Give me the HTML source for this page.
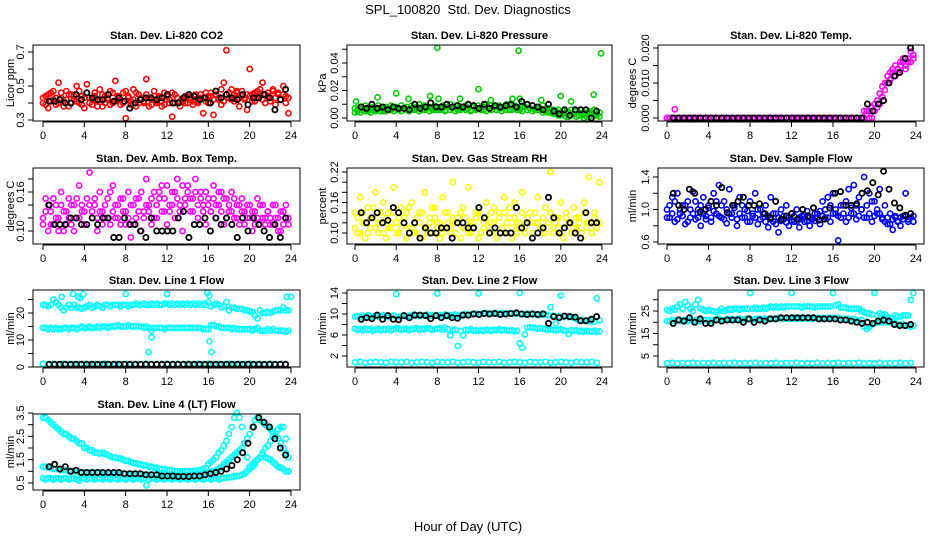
<!DOCTYPE html>
<html><head><meta charset="utf-8"><style>
html,body{margin:0;padding:0;background:#fff;}
svg{display:block;font-family:"Liberation Sans",Arial,sans-serif;}
</style></head><body>
<svg id="chart" width="936" height="540" viewBox="0 0 936 540">
<text x="468" y="14" text-anchor="middle" font-size="13" style="white-space:pre">SPL_100820  Std. Dev. Diagnostics</text>
<text x="468" y="531" text-anchor="middle" font-size="13">Hour of Day (UTC)</text>
</svg>
<script>
// ---------- data ----------
const xTicks = [0,4,8,12,16,20,24];
const blackStart = 0.6, blackStep = 0.52;

const co2A = [0.40,0.44,0.37,0.46,0.42,0.39,0.52,0.43,0.41,0.47,0.38,0.45,0.42,0.50,0.40,0.44,0.37,0.51,0.43,0.39,0.46,0.41,0.48,0.38,0.44,0.42,0.47,0.40,0.53,0.43,0.39,0.46,0.31,0.44,0.41,0.48,0.38,0.45,0.42,0.40,0.54,0.43,0.39,0.47,0.41,0.44,0.38,0.46,0.42,0.40,0.32,0.45,0.43,0.38,0.41,0.44,0.40,0.42,0.39,0.45,0.41,0.43,0.34,0.46,0.40,0.44,0.33,0.47,0.42,0.39,0.52,0.45,0.43,0.48,0.41,0.46,0.38,0.44,0.43,0.36,0.60,0.45,0.41,0.47,0.44,0.52,0.40,0.46,0.43,0.48,0.39,0.45,0.42,0.50,0.40,0.34];
const co2B = [0.43,0.39,0.45,0.41,0.47,0.43,0.40,0.46,0.38,0.42,0.45,0.40,0.44,0.41,0.47,0.39,0.43,0.46,0.40,0.42,0.44,0.38,0.42,0.45,0.40,0.43,0.39,0.46,0.41,0.44,0.42,0.40,0.47,0.43,0.39,0.42,0.46,0.40,0.43,0.41,0.45,0.38,0.42,0.44,0.40,0.43,0.41,0.39,0.44,0.42,0.46,0.40,0.43,0.41,0.42,0.40,0.44,0.43,0.41,0.42,0.40,0.45,0.43,0.41,0.44,0.46,0.42,0.45,0.43,0.48,0.41,0.71,0.46,0.42,0.45,0.47,0.43,0.47,0.42,0.45,0.44,0.41,0.46,0.43,0.48,0.42,0.45,0.44,0.41,0.47,0.43,0.46,0.42,0.45,0.44,0.43];
const co2Black = [0.41,0.41,0.42,0.40,0.40,0.45,0.42,0.46,0.43,0.42,0.42,0.45,0.41,0.43,0.41,0.37,0.40,0.42,0.43,0.43,0.42,0.43,0.45,0.40,0.40,0.43,0.45,0.44,0.42,0.43,0.40,0.47,0.43,0.45,0.43,0.42,0.45,0.39,0.43,0.43,0.45,0.43,0.36,0.42,0.48];

const presA = [0.007,0.005,0.008,0.006,0.009,0.005,0.007,0.008,0.006,0.009,0.007,0.005,0.008,0.006,0.009,0.007,0.008,0.006,0.009,0.007,0.008,0.006,0.009,0.007,0.008,0.010,0.006,0.009,0.007,0.008,0.006,0.009,0.008,0.007,0.009,0.006,0.008,0.010,0.007,0.009,0.006,0.008,0.007,0.009,0.010,0.006,0.008,0.007,0.009,0.008,0.006,0.010,0.007,0.009,0.008,0.006,0.009,0.007,0.008,0.010,0.006,0.009,0.007,0.008,0.006,0.009,0.008,0.010,0.007,0.009,0.006,0.008,0.007,0.009,0.005,0.007,0.004,0.006,0.003,0.006,0.002,0.005,0.004,0.001,0.006,0.003,0.005,0.002,0.006,0.004,0.001,0.005,0.003,0.006,0.002,0.004];
const presB = [0.004,0.006,0.004,0.007,0.005,0.006,0.004,0.006,0.005,0.007,0.005,0.006,0.005,0.007,0.006,0.005,0.007,0.006,0.005,0.007,0.006,0.005,0.007,0.006,0.007,0.005,0.008,0.006,0.007,0.005,0.007,0.006,0.006,0.006,0.007,0.005,0.008,0.006,0.007,0.005,0.007,0.006,0.008,0.006,0.007,0.005,0.008,0.006,0.007,0.006,0.008,0.005,0.007,0.006,0.008,0.006,0.007,0.005,0.008,0.006,0.007,0.006,0.009,0.006,0.007,0.005,0.008,0.006,0.007,0.005,0.007,0.006,0.006,0.004,0.006,0.004,0.005,0.003,0.005,0.002,0.004,0.003,0.001,0.004,0.002,0.003,0.001,0.004,0.002,0.000,0.003,0.001,0.004,0.002,0.003,0.001];
const presOutHours = [0.1,2.2,4.0,5.2,7.3,8.0,8.1,10.2,12.0,13.2,15.3,15.9,16.0,18.1,20.0,21.0,23.2,23.9];
const presOutVals = [0.012,0.015,0.018,0.014,0.016,0.051,0.014,0.014,0.021,0.013,0.014,0.049,0.014,0.013,0.016,0.012,0.017,0.047];
const presBlack = [0.008,0.007,0.010,0.007,0.008,0.006,0.008,0.007,0.007,0.006,0.010,0.007,0.008,0.011,0.008,0.008,0.010,0.008,0.009,0.008,0.010,0.009,0.007,0.010,0.007,0.009,0.008,0.009,0.010,0.008,0.012,0.010,0.009,0.008,0.006,0.010,0.005,0.003,0.006,0.002,0.006,0.006,0.006,0.000,0.005];

const tempA = [0,0,0,0.0025,0,0,0,0,0,0,0,0,0,0,0,0,0,0,0,0,0,0,0,0,0,0,0,0,0,0,0,0,0,0,0,0,0,0,0,0,0,0,0,0,0,0,0,0,0,0,0,0,0,0,0,0,0,0,0,0,0,0,0,0,0,0,0,0,0,0,0,0,0,0,0,0,0.002,0.001,0.002,0.000,0.002,0.003,0.004,0.006,0.008,0.010,0.011,0.013,0.012,0.014,0.015,0.016,0.014,0.017,0.016,0.018];
const tempB = [0,0,0,0,0,0,0,0,0,0,0,0,0,0,0,0,0,0,0,0,0,0,0,0,0,0,0,0,0,0,0,0,0,0,0,0,0,0,0,0,0,0,0,0,0,0,0,0,0,0,0,0,0,0,0,0,0,0,0,0,0,0,0,0,0,0,0,0,0,0,0,0,0,0,0,0,0.000,0.002,0.000,0.003,0.004,0.005,0.007,0.009,0.010,0.012,0.013,0.014,0.015,0.013,0.016,0.017,0.015,0.016,0.019,0.017];
const tempBlack = [0,0,0,0,0,0,0,0,0,0,0,0,0,0,0,0,0,0,0,0,0,0,0,0,0,0,0,0,0,0,0,0,0,0,0,0,0.004,0.002,0.004,0.005,0.010,0.012,0.013,0.017,0.020];

const ambA = [0.12,0.15,0.10,0.13,0.11,0.14,0.12,0.16,0.10,0.13,0.15,0.11,0.14,0.12,0.17,0.13,0.11,0.15,0.19,0.12,0.14,0.10,0.16,0.13,0.12,0.15,0.11,0.17,0.14,0.12,0.15,0.13,0.11,0.16,0.09,0.14,0.12,0.15,0.10,0.13,0.18,0.14,0.11,0.16,0.12,0.15,0.17,0.13,0.11,0.14,0.16,0.12,0.18,0.14,0.10,0.15,0.17,0.13,0.15,0.18,0.12,0.16,0.14,0.11,0.15,0.13,0.17,0.12,0.14,0.16,0.11,0.15,0.13,0.16,0.12,0.14,0.11,0.15,0.13,0.12,0.14,0.10,0.13,0.15,0.11,0.14,0.12,0.13,0.11,0.14,0.12,0.10,0.13,0.11,0.14,0.12];
const ambB = [0.11,0.13,0.14,0.11,0.15,0.12,0.10,0.14,0.13,0.11,0.12,0.14,0.10,0.15,0.12,0.14,0.13,0.11,0.14,0.13,0.15,0.12,0.13,0.11,0.14,0.12,0.16,0.13,0.12,0.14,0.11,0.15,0.13,0.12,0.14,0.11,0.15,0.13,0.16,0.12,0.14,0.13,0.15,0.12,0.14,0.16,0.13,0.15,0.17,0.13,0.14,0.16,0.15,0.13,0.17,0.14,0.16,0.15,0.13,0.16,0.14,0.15,0.13,0.16,0.14,0.13,0.15,0.14,0.16,0.13,0.15,0.12,0.14,0.13,0.15,0.12,0.14,0.13,0.11,0.14,0.12,0.13,0.11,0.12,0.14,0.12,0.11,0.13,0.12,0.11,0.14,0.12,0.10,0.13,0.12,0.11];
const ambBlack = [0.14,0.11,0.11,0.11,0.12,0.12,0.11,0.11,0.12,0.11,0.12,0.12,0.09,0.09,0.12,0.11,0.11,0.10,0.09,0.12,0.10,0.10,0.10,0.10,0.12,0.13,0.09,0.11,0.11,0.12,0.10,0.12,0.11,0.12,0.11,0.09,0.12,0.10,0.12,0.11,0.10,0.09,0.11,0.09,0.12];

const rhA = [0.14,0.10,0.17,0.12,0.09,0.15,0.11,0.13,0.18,0.10,0.12,0.16,0.09,0.14,0.11,0.19,0.12,0.10,0.15,0.13,0.09,0.11,0.16,0.12,0.10,0.14,0.09,0.18,0.11,0.13,0.10,0.15,0.12,0.09,0.17,0.11,0.14,0.10,0.20,0.12,0.13,0.09,0.15,0.11,0.19,0.10,0.12,0.14,0.09,0.13,0.11,0.16,0.10,0.12,0.15,0.09,0.14,0.11,0.17,0.10,0.13,0.09,0.16,0.12,0.11,0.18,0.10,0.13,0.14,0.09,0.12,0.17,0.11,0.10,0.15,0.12,0.22,0.10,0.13,0.11,0.16,0.09,0.14,0.12,0.10,0.15,0.11,0.13,0.09,0.16,0.12,0.21,0.10,0.14,0.11,0.20];
const rhB = [0.11,0.13,0.10,0.14,0.12,0.10,0.13,0.15,0.11,0.12,0.14,0.10,0.13,0.11,0.12,0.14,0.10,0.13,0.11,0.12,0.14,0.15,0.11,0.10,0.13,0.12,0.14,0.11,0.10,0.12,0.15,0.13,0.11,0.12,0.10,0.14,0.12,0.11,0.13,0.10,0.12,0.14,0.11,0.13,0.10,0.12,0.11,0.13,0.14,0.10,0.12,0.13,0.11,0.14,0.12,0.10,0.13,0.11,0.14,0.12,0.15,0.11,0.13,0.10,0.12,0.14,0.11,0.13,0.12,0.10,0.14,0.12,0.11,0.13,0.10,0.12,0.14,0.11,0.12,0.13,0.10,0.11,0.13,0.12,0.10,0.11,0.13,0.12,0.10,0.14,0.11,0.12,0.10,0.13,0.11,0.12];
const rhBlack = [0.14,0.12,0.13,0.14,0.12,0.125,0.15,0.14,0.12,0.10,0.12,0.09,0.11,0.10,0.10,0.11,0.11,0.09,0.12,0.12,0.11,0.11,0.15,0.13,0.10,0.11,0.10,0.10,0.10,0.15,0.11,0.12,0.09,0.10,0.11,0.17,0.13,0.10,0.11,0.12,0.10,0.09,0.14,0.12,0.12];

const sfA = [1.0,0.9,1.15,0.85,1.2,0.95,1.05,0.82,1.1,0.9,1.22,0.88,1.0,0.8,1.15,0.92,1.05,0.85,1.2,0.95,1.3,0.9,1.1,0.83,1.25,0.95,1.05,0.8,1.15,0.9,1.0,0.85,1.1,0.92,1.2,0.82,1.0,0.9,1.05,0.78,1.15,0.85,0.95,0.72,1.0,0.88,1.05,0.8,0.95,0.85,1.0,0.78,0.92,0.85,0.98,0.8,0.9,0.86,0.95,0.82,1.1,0.9,1.15,0.85,1.2,0.95,0.62,0.9,1.05,0.85,1.25,0.95,1.3,0.88,1.15,1.0,1.4,0.9,1.2,0.85,1.1,0.95,1.25,0.9,1.05,0.82,0.95,0.75,0.9,0.85,0.8,0.92,1.2,0.88,0.95,0.85];
const sfB = [0.9,1.05,0.95,1.1,0.88,1.0,0.92,1.05,0.85,1.0,0.95,1.1,0.9,1.05,0.95,0.88,1.02,0.9,0.98,1.1,0.92,1.05,0.88,1.0,0.95,0.9,1.02,0.88,0.95,1.05,0.9,0.98,0.85,0.95,0.9,1.0,0.88,0.95,0.85,0.92,0.88,0.95,0.82,0.9,0.86,0.92,0.84,0.9,0.87,0.92,0.85,0.9,0.88,0.93,0.86,0.9,0.88,0.95,0.9,0.98,0.92,1.0,0.9,1.05,0.95,1.0,0.92,1.05,0.95,1.1,0.9,1.02,0.95,1.05,0.92,1.0,0.9,1.05,0.95,1.1,0.92,1.0,0.95,0.88,0.85,0.9,0.82,0.88,0.92,0.86,0.9,0.88,0.92,0.85,0.9,0.92];
const sfBlack = [1.2,1.05,1.0,1.25,1.2,0.97,1.0,1.1,1.05,1.27,0.96,1.05,1.1,1.15,1.05,1.05,1.07,0.95,0.9,1.1,0.88,0.92,0.95,0.88,1.0,0.92,1.02,0.87,0.88,1.02,1.2,1.22,1.05,1.05,1.07,1.2,1.23,1.33,1.18,1.47,1.25,1.08,1.02,0.93,0.95];

const l1Up = [23,23,22.5,23,25,24,23,22,21,22,23,22,23,22,22,21.5,22,22.5,23,22,22.5,23,22.5,22,23,23,22.5,23,23,23,22.5,23,23,22.5,23,23,23.5,23,23,23.5,23,23,23.5,23,23.5,23,23,23.5,23.5,23,23.5,23,23.5,23,23.5,23,23.5,23,23.5,23,23.5,23,23.5,23,24,22.5,23,23.5,23,22,22.5,24,21,22,22,21.5,21.5,21.5,21,21,20.5,20.5,19,18,21,20,20,20.5,20,20.5,21,21,21,22,21,21];
const l1Mid = [14.5,14.5,14,14.5,14,14.5,14,14,14.5,14.5,14,14.5,14.5,14,14.5,15,14.5,14.5,15,14.5,14.5,15,14.5,15,15,14.5,15,15,15,15.5,15,15,15,15.5,15,15,15,15,15,14.5,15,14.5,13.5,14.5,14.5,14.5,14.5,14,14.5,14.5,14.5,14.5,14.5,14.5,14.5,14.5,14.5,14.5,14.5,14.5,14.5,14.5,14,14,14,15.5,15.5,15,15,14.5,14.5,14.5,14.5,14,14.5,14,14,14,14,14,14,13.5,14,14.5,13.5,13.5,13.5,14,13.5,14,13.5,13.5,13.5,13.5,13,13.5];
const l1Low = [1.2,1,1.1,1,1.2,1,1.1,1,1.2,1,1.1,1,1.2,1,1.1,1,1.2,1,1.1,1,1.2,1,1.1,1,1.2,1,1.1,1,1.2,1,1.1,1,1.2,1,1.1,1,1.2,1,1.1,1,1.2,1,1.1,1,1.2,1,1.1,1];
const l1OutHours = [1.8,2.9,3.4,3.6,3.9,8.0,12.0,15.9,16.1,23.6,24.0,10.2,10.5,16.1,16.3];
const l1OutVals = [26,27,26,25.5,27,27,27,27.5,26.5,26,26,5.5,11,9.5,5.5];
const l1Black = [1,1,1,1,1,1,1,1,1,1,1,1,1,1,1,1,1,1,1,1,1,1,1,1,1,1,1,1,1,1,1,1,1,1,1,1,1,1,1,1,1,1,1,1,1];

const l2Up = [9.5,9.6,9.4,9.7,9.5,9.8,9.6,9.4,9.7,9.5,9.6,9.8,9.5,9.4,9.6,9.7,13.8,9.5,9.6,9.8,9.5,9.7,9.6,9.9,9.7,9.6,9.8,9.7,9.9,9.6,9.8,9.7,13.9,9.8,9.7,9.9,9.6,9.8,9.7,9.9,9.6,9.8,9.9,10.0,9.8,9.9,10.0,10.1,13.9,10.0,10.1,10.2,10.0,10.1,10.2,10.0,10.1,10.2,10.0,10.1,10.2,10.1,10.0,10.1,14.0,10.0,9.9,10.1,10.0,9.9,10.0,9.8,9.9,10.1,9.9,9.8,11.3,9.7,8.2,9.6,13.5,9.5,9.6,9.4,9.5,9.3,9.0,8.8,8.9,8.7,8.8,8.6,8.8,8.5,13.0,8.8];
const l2Mid = [7.2,7.0,7.1,6.9,7.2,7.0,7.1,6.8,7.0,7.2,6.9,7.1,7.0,7.2,6.9,7.1,7.3,7.2,7.0,7.1,7.2,6.9,7.1,7.2,7.3,7.0,7.2,7.1,7.3,7.2,7.0,7.1,7.2,7.3,7.0,7.4,7.1,5.9,6.9,7.0,3.9,6.8,5.9,7.0,6.9,7.1,6.8,6.9,6.8,6.9,6.8,7.0,6.9,6.8,7.0,6.9,7.1,6.9,7.0,6.9,6.8,6.9,6.7,6.8,4.4,3.6,6.1,7.4,7.5,7.4,7.3,7.2,7.3,7.2,7.1,7.0,7.1,7.0,6.9,7.0,7.1,6.9,6.8,6.2,6.9,6.8,6.9,6.7,6.8,6.6,6.8,6.7,6.6,6.8,6.6,6.7];
const l2Low = [0.8,0.9,0.7,0.8,0.9,0.8,0.7,0.9,0.8,0.8,0.9,0.7,0.8,0.9,0.8,0.7,0.9,0.8,0.8,0.9,0.7,0.8,0.9,0.8,0.7,0.9,0.8,0.8,0.9,0.7,0.8,0.9,0.8,0.7,0.9,0.8,0.8,0.9,0.7,0.8,0.9,0.8,0.7,0.9,0.8,0.8,0.9,0.7];
const l2Black = [9.0,9.3,9.1,9.8,9.0,9.7,9.0,8.9,9.7,9.3,9.8,9.8,9.7,9.1,9.7,9.3,9.7,9.3,9.2,9.8,9.8,10.0,9.9,10.1,10.0,10.1,9.9,10.0,10.1,10.2,10.0,9.9,10.0,9.9,10.0,8.2,9.5,9.3,9.6,9.5,9.4,8.7,8.7,9.0,9.5];

const l3Up = [25.5,25,26,25.5,27,28,26,29,27.5,26,25,28,30,26,25.5,25,25.5,25,25,24.5,25,26,25,25.5,26,25.5,26,26,25.5,26,26,26,33,26,26.5,26,26,26.5,26,26.5,27,26.5,27,26.5,27,26.5,27,27,33,27,27,27,26.5,27,27,27,27,26.5,27,27,27,27,27,27,33,27.5,28,26.5,26.5,26.5,26,26,26,26,26,25,24.5,24,24,23.5,33,23,24,23.5,23.5,22.5,22,22,23,22.5,22.5,23,23,23,30,33];
const l3Mid = [20.5,20.5,21,20.5,21,20.5,21,21,20.5,21,20.5,21,21,20.5,21,21,21,20.5,21,21,21.5,21,21,21.5,21,21.5,21,21.5,21.5,21,21.5,21.5,21.5,21,21.5,21.5,21.5,21,21.5,21.5,21.5,21.5,21.5,22,21.5,21.5,22,21.5,21.5,22,21.5,22,21.5,22,21.5,22,21.5,22,22,21.5,22,21.5,22,22,22,21.5,22,21.5,21.5,21.5,21.5,21,21.5,21,20.5,21,18,17,18,19,19.5,20,20,20,20.5,20,20,19.5,19.5,19,19,19,18.5,18.5,18,18.5];
const l3Low = [1.8,2,1.7,1.9,1.8,2,1.7,1.9,1.8,2,1.7,1.9,1.8,2,1.7,1.9,1.8,2,1.7,1.9,1.8,2,1.7,1.9,1.8,2,1.7,1.9,1.8,2,1.7,1.9,1.8,2,1.7,1.9,1.8,2,1.7,1.9,1.8,2,1.7,1.9,1.8,2,1.7,1.9];
const l3Black = [19.5,21,20.5,22,20,21.5,19.5,19.5,21,20.5,21,21,21,20,21.5,20,21,20.5,21.5,21.5,22,22,22,22,22,22,22,21.5,21.5,21.5,21.5,21,21,20.5,20,19.5,20,19.5,20.5,21,20.5,19,18.5,18.5,19];

const l4A = [3.3,3.3,3.2,3.1,3.0,2.9,2.8,2.7,2.6,2.6,2.5,2.4,2.4,2.3,2.2,2.2,2.0,2.0,1.9,1.9,1.8,1.8,1.75,1.8,1.75,1.7,1.65,1.6,1.6,1.55,1.55,1.5,1.45,1.45,1.4,1.35,1.35,1.3,1.3,1.25,1.25,1.2,1.2,1.15,1.15,1.1,1.1,1.1,1.05,1.05,1.05,1.0,1.0,1.0,1.0,1.0,1.0,1.0,1.0,1.0,1.05,1.05,1.1,1.15,1.3,1.4,1.5,1.6,1.8,1.9,2.1,2.3,2.6,2.9,3.3,3.5,3.3,2.9,2.2,1.6,1.2,1.3,1.4,1.5,1.6,1.7,1.6,1.55,1.5,1.4,1.3,1.2,1.15,1.1,1.0,1.0];
const l4B = [1.2,1.2,1.15,1.15,1.1,1.1,1.1,1.05,1.05,1.05,1.0,1.0,1.0,1.0,0.95,0.95,0.95,0.95,0.95,0.95,0.95,0.95,0.95,0.9,0.9,0.9,0.9,0.9,0.9,0.9,0.9,0.9,0.88,0.88,0.88,0.88,0.85,0.85,0.85,0.85,0.85,0.85,0.85,0.85,0.85,0.85,0.85,0.85,0.85,0.85,0.85,0.85,0.85,0.85,0.85,0.85,0.85,0.85,0.85,0.85,0.9,0.9,0.9,0.9,0.95,1.0,1.0,1.05,1.1,1.2,1.3,1.4,1.5,1.6,1.7,1.8,1.9,2.0,2.2,2.4,2.6,2.9,3.2,3.3,3.2,3.1,3.0,2.9,2.8,2.7,2.5,2.4,2.2,2.0,1.8,1.6];
const l4C = [0.7,0.65,0.7,0.7,0.65,0.7,0.7,0.65,0.7,0.7,0.65,0.7,0.7,0.65,0.6,0.7,0.7,0.65,0.7,0.7,0.65,0.7,0.7,0.65,0.7,0.7,0.65,0.7,0.7,0.65,0.7,0.7,0.65,0.7,0.7,0.65,0.7,0.7,0.65,0.7,0.4,0.65,0.7,0.7,0.65,0.7,0.7,0.65,0.7,0.7,0.65,0.7,0.7,0.65,0.7,0.7,0.65,0.7,0.7,0.65,0.7,0.7,0.65,0.7,0.7,0.65,0.7,0.7,0.65,0.7,0.72,0.72,0.75,0.75,0.8,0.8,0.8,0.85,0.9,1.0,1.1,1.2,1.3,1.5,1.6,1.8,2.0,2.1,2.3,2.5,2.6,2.8,2.9,2.9,2.4,1.0];
const l4Black = [1.2,1.3,1.1,1.2,1.0,1.05,0.95,0.95,0.95,0.95,0.95,0.95,0.95,0.95,0.9,0.9,0.9,0.9,0.85,0.85,0.85,0.8,0.8,0.8,0.78,0.78,0.78,0.8,0.8,0.85,0.9,0.95,1.0,1.1,1.25,1.5,1.8,2.2,2.9,3.3,3.1,2.9,2.4,2.0,1.7];

// ---------- layout ----------
const cols = [{L:33,R:300,x0:43,x24:291,yt:10},{L:347,R:612,x0:355,x24:602,yt:322},{L:658,R:924,x0:667,x24:916,yt:632}];
const rows = [{T:45,B:121},{T:168,B:244},{T:290,B:367},{T:414,B:490}];
const CY='#00ffff', MG='#ff00ff';
const panels = [
 {name:'co2',c:0,r:0,title:'Stan. Dev. Li-820 CO2',yt:'Licor ppm',a:[0.3,120],b:[0.7,52],ticks:[0.3,0.4,0.5,0.6,0.7],labels:['0.3','','0.5','','0.7'],color:'#ff0000',series:[co2A,co2B],out:null,black:co2Black},
 {name:'pressure',c:1,r:0,title:'Stan. Dev. Li-820 Pressure',yt:'kPa',a:[0,118],b:[0.04,63],ticks:[0,0.01,0.02,0.03,0.04,0.05],labels:['0.00','','0.02','','0.04',''],color:'#00cd00',series:[presA,presB],out:[presOutHours,presOutVals],black:presBlack},
 {name:'licor-temp',c:2,r:0,title:'Stan. Dev. Li-820 Temp.',yt:'degrees C',a:[0,118],b:[0.02,48],ticks:[0,0.005,0.01,0.015,0.02],labels:['0.000','','0.010','','0.020'],color:MG,series:[tempA,tempB],out:null,black:tempBlack},
 {name:'amb-box-temp',c:0,r:1,title:'Stan. Dev. Amb. Box Temp.',yt:'degrees C',a:[0.10,231],b:[0.16,192],ticks:[0.10,0.12,0.14,0.16,0.18],labels:['0.10','','','0.16',''],color:MG,series:[ambA,ambB],out:null,black:ambBlack},
 {name:'gas-rh',c:1,r:1,title:'Stan. Dev. Gas Stream RH',yt:'percent',a:[0.10,233],b:[0.22,172],ticks:[0.10,0.12,0.14,0.16,0.18,0.20,0.22],labels:['0.10','','','0.16','','','0.22'],color:'#ffff00',series:[rhA,rhB],out:null,black:rhBlack},
 {name:'sample-flow',c:2,r:1,title:'Stan. Dev. Sample Flow',yt:'ml/min',a:[0.6,242],b:[1.4,177],ticks:[0.6,0.8,1.0,1.2,1.4],labels:['0.6','','1.0','','1.4'],color:'#0000ff',series:[sfA,sfB],out:null,black:sfBlack},
 {name:'line1-flow',c:0,r:2,title:'Stan. Dev. Line 1 Flow',yt:'ml/min',a:[0,367],b:[20,313],ticks:[0,5,10,15,20,25],labels:['0','','10','','20',''],color:CY,series:[l1Up,l1Mid,l1Low],out:[l1OutHours,l1OutVals],black:l1Black},
 {name:'line2-flow',c:1,r:2,title:'Stan. Dev. Line 2 Flow',yt:'ml/min',a:[2,356],b:[14,293],ticks:[2,4,6,8,10,12,14],labels:['2','','6','','10','','14'],color:CY,series:[l2Up,l2Mid,l2Low],out:null,black:l2Black},
 {name:'line3-flow',c:2,r:2,title:'Stan. Dev. Line 3 Flow',yt:'ml/min',a:[5,356],b:[25,311],ticks:[5,10,15,20,25,30],labels:['5','','15','','25',''],color:CY,series:[l3Up,l3Mid,l3Low],out:null,black:l3Black},
 {name:'line4-flow',c:0,r:3,title:'Stan. Dev. Line 4 (LT) Flow',yt:'ml/min',a:[0.5,483],b:[3.5,413],ticks:[0.5,1,1.5,2,2.5,3,3.5],labels:['0.5','','1.5','','2.5','','3.5'],color:CY,series:[l4A,l4B,l4C],out:null,black:l4Black}
];

// ---------- drawing ----------
const NS='http://www.w3.org/2000/svg';
const svg=document.getElementById('chart');
function mk(tag,attrs,parent){const e=document.createElementNS(NS,tag);for(const k in attrs)e.setAttribute(k,attrs[k]);(parent||svg).appendChild(e);return e;}

panels.forEach(p=>{
  const col=cols[p.c], row=rows[p.r];
  const g=mk('g',{});
  
  
  const xs=h=>col.x0+(h/24)*(col.x24-col.x0);
  const ys=v=>p.a[1]+(v-p.a[0])*(p.b[1]-p.a[1])/(p.b[0]-p.a[0]);
  const t=mk('text',{x:(col.L+col.R)/2,y:row.T-6,'text-anchor':'middle','font-size':'11','font-weight':'bold'},g);
  t.textContent=p.title;
  
  
  const yt=mk('text',{x:col.yt+4,y:(row.T+row.B)/2,'text-anchor':'middle','font-size':'11',transform:`rotate(-90 ${col.yt+4} ${(row.T+row.B)/2})`},g);
  yt.textContent=p.yt;
  
  
  const pg=mk('g',{fill:'none'},g);
  
  
  p.series.forEach(arr=>{
    const step=24/arr.length;
    arr.forEach((v,i)=>{
      const c=mk('circle',{cx:xs(i*step).toFixed(1),cy:ys(v).toFixed(1),r:2.6,stroke:p.color,'stroke-width':1.6},pg);
      
      
    });
  });
  if(p.out){
    p.out[0].forEach((h,i)=>{
      const c=mk('circle',{cx:xs(h).toFixed(1),cy:ys(p.out[1][i]).toFixed(1),r:2.6,stroke:p.color,'stroke-width':1.6},pg);
      
      
    });
  }
  p.black.forEach((v,i)=>{
    const c=mk('circle',{cx:xs(blackStart+i*blackStep).toFixed(1),cy:ys(v).toFixed(1),r:2.6,stroke:'#000','stroke-width':1.8},pg);
    
    
  });
  const b=mk('rect',{x:col.L,y:row.T,width:col.R-col.L,height:row.B-row.T,fill:'none',stroke:'#000','stroke-width':1},g);
  
  
  const xa=mk('g',{},g);
  
  
  mk('line',{x1:xs(0),x2:xs(24),y1:row.B+1,y2:row.B+1,stroke:'#000'},xa);
  xTicks.forEach(h=>{
    mk('line',{x1:xs(h),x2:xs(h),y1:row.B+1,y2:row.B+6,stroke:'#000'},xa);
    const tl=mk('text',{x:xs(h),y:row.B+18,'text-anchor':'middle','font-size':'11'},xa);
    tl.textContent=h;
  });
  const ya=mk('g',{},g);
  
  
  mk('line',{x1:col.L,x2:col.L,y1:ys(p.ticks[0]),y2:ys(p.ticks[p.ticks.length-1]),stroke:'#000'},ya);
  p.ticks.forEach((v,i)=>{
    const y=ys(v);
    mk('line',{x1:col.L-5,x2:col.L,y1:y,y2:y,stroke:'#000'},ya);
    if(p.labels[i]){
      const lx=col.L-9;
      const tl=mk('text',{x:lx,y:y,'text-anchor':'middle','font-size':'11',transform:`rotate(-90 ${lx} ${y})`},ya);
      tl.textContent=p.labels[i];
    }
  });
});
</script>
</body></html>
